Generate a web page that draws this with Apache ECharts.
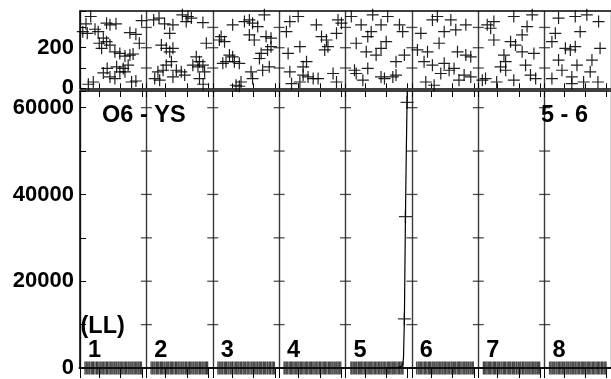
<!DOCTYPE html>
<html><head><meta charset="utf-8">
<script src="https://cdn.jsdelivr.net/npm/echarts@6/dist/echarts.min.js"></script>
<style>html,body{margin:0;padding:0;background:#fff}#c{width:611px;height:379px}</style>
</head><body><div id="c"></div>
<script>
// ---- categories / sections ----
const sectionLabels = ['1','2','3','4','5','6','7','8'];
const sectionDays = 31;
const xTickOffsets = [9, 19, 29];
const topTickValues = [0, 100, 200, 300];
const topLabelValues = [0, 200];
const bottomTickValues = [0, 10000, 20000, 30000, 40000, 50000, 60000];
const bottomLabelValues = [0, 20000, 40000, 60000];
const topMax = 381;
const bottomMax = 63840;

// ---- top panel scatter: [day within section, value] ----
const topSec1 = [[5.0,354],[2.8,318],[7.0,291],[8.5,279],[3.4,271],[1.3,279],[12.4,321],[16.8,318],[14.0,313],[10.9,247],[9.0,222],[12.4,230],[14.0,213],[10.1,197],[16.3,180],[18.6,172],[21.0,159],[23.3,164],[24.8,169],[27.7,222],[26.1,266],[23.3,274],[28.8,334],[20.2,98],[18.6,81],[10.9,76],[14.0,56],[16.3,48],[21.0,81],[6.2,31],[3.9,20],[24.1,31],[26.1,36],[22.5,114],[17.1,106],[12.7,98]];
const topSec2 = [[3.4,337],[5.9,346],[8.5,318],[12.4,313],[10.9,271],[16.8,362],[19.4,354],[21.0,346],[18.6,329],[28.0,222],[7.0,213],[9.3,197],[10.9,180],[12.4,197],[23.3,155],[24.8,131],[24.1,106],[11.7,131],[9.3,114],[7.8,89],[5.4,81],[14.0,89],[16.3,81],[17.9,65],[12.4,56],[6.2,40],[3.9,48],[24.8,48],[26.5,20],[26.4,324],[26.4,114],[21.7,114],[27.2,81]];
const topSec3 = [[3.9,255],[3.1,238],[5.5,230],[7.8,164],[9.3,155],[6.2,131],[4.7,123],[10.1,131],[12.4,123],[9.3,313],[14.8,329],[17.1,337],[18.6,321],[21.0,304],[24.1,362],[17.1,263],[19.4,238],[24.9,255],[27.2,247],[25.6,189],[22.6,172],[21.8,147],[26.4,106],[23.3,89],[17.9,81],[18.6,48],[13.2,31],[10.9,15],[12.4,10],[27.2,205]];
const topSec4 = [[5.0,329],[8.9,354],[3.4,279],[17.4,313],[27.5,337],[29.1,321],[19.8,255],[22.1,238],[22.8,205],[21.3,189],[26.8,271],[4.2,172],[9.7,205],[12.8,131],[11.2,106],[5.0,81],[11.2,65],[13.5,56],[15.9,48],[18.2,48],[9.7,31],[25.2,73],[26.8,31],[5.8,23]];
const topSec5 = [[2.7,354],[7.3,313],[12.0,279],[12.7,362],[19.7,354],[16.6,313],[25.2,313],[26.7,279],[10.4,255],[5.0,222],[9.7,180],[14.3,164],[16.6,197],[19.0,230],[27.5,164],[23.6,131],[4.2,89],[5.0,73],[8.1,40],[10.4,98],[18.2,48],[22.1,56],[23.6,65],[16.6,56]];
const topSec6 = [[9.6,337],[11.9,354],[18.2,337],[25.2,313],[4.2,271],[15.1,279],[20.5,288],[12.7,222],[2.6,189],[7.3,180],[21.3,180],[25.2,164],[27.5,155],[5.7,131],[9.6,114],[15.1,123],[17.4,89],[13.5,73],[6.5,31],[10.4,15],[22.0,40],[27.5,56],[24.4,65],[19.7,98]];
const topSec7 = [[4.2,313],[7.3,329],[5.8,296],[16.6,354],[25.2,362],[22.8,304],[20.5,263],[7.3,238],[15.1,230],[17.4,213],[20.5,180],[26.0,172],[12.0,164],[12.8,131],[10.4,106],[12.8,89],[3.4,48],[1.9,40],[16.6,40],[24.4,65],[26.8,48],[22.1,114],[8.6,31]];
const topSec8 = [[6.5,346],[14.3,354],[19.7,362],[25.2,329],[16.6,279],[5.0,271],[3.4,230],[9.7,197],[12.0,189],[14.3,205],[25.9,197],[22.1,139],[15.1,114],[6.5,139],[8.1,89],[21.3,81],[3.4,48],[12.7,56],[24.9,31],[18.2,31],[12.7,23]];
const topSections = [topSec1, topSec2, topSec3, topSec4, topSec5, topSec6, topSec7, topSec8];

// ---- bottom panel: dense near-zero markers (day within section) ----
const lowSec1 = [2.3,2.9,3.4,4.1,4.6,5.3,5.9,6.3,7.0,7.7,8.1,8.8,9.4,9.9,10.6,11.1,11.7,12.4,12.8,13.5,14.1,14.6,15.3,15.9,16.4,17.0,17.7,18.2,18.8,19.4,20.0,20.6,21.2,21.7,22.4,22.9,23.5,24.2,24.7,25.3,25.9,26.5,27.1,27.6,28.2,28.7];
const lowSec2 = [2.2,2.8,3.5,4.0,4.7,5.2,5.8,6.5,7.0,7.5,8.2,8.7,9.4,10.0,10.5,11.2,11.8,12.3,12.9,13.6,14.0,14.7,15.2,15.8,16.5,17.1,17.6,18.3,18.8,19.5,20.1,20.5,21.2,21.8,22.3,23.0,23.6,24.1,24.8,25.2,25.9,26.4,27.0,27.7,28.1,28.6];
const lowSec3 = [2.4,3.0,3.5,4.2,4.7,5.4,6.0,6.4,7.1,7.6,8.3,8.9,9.3,10.0,10.7,11.2,11.8,12.3,13.0,13.5,14.2,14.7,15.3,16.0,16.5,17.0,17.8,18.3,18.9,19.4,20.1,20.7,21.1,21.8,22.4,22.9,23.6,24.1,24.7,25.4,25.8,26.5,27.0,27.7,28.3,28.8];
const lowSec4 = [2.3,2.8,3.4,4.0,4.7,5.3,5.8,6.4,7.0,7.6,8.2,8.8,9.3,10.0,10.5,11.1,11.7,12.4,12.9,13.4,14.1,14.7,15.2,15.8,16.4,17.1,17.6,18.2,18.9,19.3,20.0,20.6,21.2,21.7,22.3,23.0,23.5,24.1,24.7,25.2,25.9,26.5,27.0,27.6,28.2,28.8];
const lowSec5 = [2.5,3.0,3.6,4.2,4.8,5.3,6.0,6.5,7.1,7.6,8.2,8.9,9.4,10.0,10.6,11.2,11.8,12.3,12.9,13.6,14.1,14.7,15.3,15.8,16.5,17.0,17.6,18.2,18.8,19.5,20.0,20.6,21.2,21.8,22.3,22.9,23.5,24.1,24.8,25.3,25.9,26.4,26.9];
const lowSec6 = [2.2,2.9,3.4,4.0,4.6,5.2,5.9,6.4,7.0,7.7,8.2,8.7,9.4,9.9,10.5,11.2,11.7,12.3,12.9,13.5,14.1,14.6,15.3,15.8,16.4,17.0,17.6,18.3,18.8,19.4,20.0,20.5,21.2,21.8,22.3,22.9,23.5,24.2,24.7,25.3,25.8,26.4,27.1,27.6,28.2,28.7];
const lowSec7 = [2.4,2.9,3.5,4.1,4.7,5.3,5.8,6.4,7.1,7.6,8.1,8.8,9.3,9.9,10.6,11.1,11.8,12.3,12.8,13.5,14.1,14.7,15.2,15.9,16.4,17.0,17.7,18.1,18.8,19.4,19.9,20.6,21.1,21.8,22.3,22.9,23.6,24.1,24.7,25.3,25.9,26.5,27.0,27.6,28.2,28.7];
const lowSec8 = [2.3,2.9,3.5,4.0,4.6,5.3,5.8,6.5,7.0,7.6,8.2,8.7,9.3,10.0,10.5,11.1,11.8,12.3,12.9,13.4,14.1,14.6,15.2,15.9,16.4,17.1,17.6,18.2,18.8,19.3,20.0,20.6,21.1,21.7,22.4,22.9,23.5,24.1,24.8,25.2,25.8,26.5,27.0,27.7,28.2,28.7];
const lowSections = [lowSec1, lowSec2, lowSec3, lowSec4, lowSec5, lowSec6, lowSec7, lowSec8];
const lowValue = 0;

// ---- bottom panel: surge in section 5 ----
const surgeSection = 4; // index of section "5"
const surgeDays   = [18.6, 22.0, 24.5, 26.2, 26.8, 27.1, 27.5, 28.0, 28.4, 28.76, 28.85];
const surgeValues = [0,    60,   150,  400,  900,  2500, 11300, 34900, 50000, 61200, 63840];
const surgeMarked = [0,    0,    0,    0,    0,    0,    1,     1,     0,     1,     0];

// ---- annotations ----
const titleLeft = 'O6 - YS';
const titleRight = '5 - 6';
const bottomTag = '(LL)';

// ================= build =================
const nSec = sectionLabels.length;
const xMax = nSec * sectionDays;
const tickDays = [];
for (let k = 0; k <= nSec; k++) tickDays.push(k * sectionDays);
for (let k = 0; k < nSec; k++) xTickOffsets.forEach(o => tickDays.push(k * sectionDays + o));
tickDays.sort((a, b) => a - b);
const dividers = [];
for (let k = 1; k < nSec; k++) dividers.push(k * sectionDays);

const topData = [];
topSections.forEach((sec, k) => sec.forEach(p => topData.push([k * sectionDays + p[0], p[1]])));
const lowData = [];
lowSections.forEach((sec, k) => sec.forEach(d => lowData.push([k * sectionDays + d, lowValue])));
const surgeData = surgeDays.map((d, i) => [surgeSection * sectionDays + d, surgeValues[i]]);
const surgeMarks = surgeData.filter((p, i) => surgeMarked[i]);

const topDivTicks = [];
dividers.forEach(x => topTickValues.filter(v => v > 0).forEach(v => topDivTicks.push([x, v])));
const botDivTicks = [];
dividers.forEach(x => bottomTickValues.filter(v => v > 0).forEach(v => botDivTicks.push([x, v])));

const PLUS = 'path://M4.5,0H5.5V4.5H10V5.5H5.5V10H4.5V5.5H0V4.5H4.5Z';
const FONT = '"Liberation Sans", Arial, Helvetica, sans-serif';
const labelStyle = { color: '#000', fontFamily: FONT, fontWeight: 'bold', fontSize: 22, margin: 6 };

const G0 = { left: 80, top: 11, width: 532, height: 77.3 };
const G1 = { left: 80, top: 91, width: 532, height: 279.3 };

const chart = echarts.init(document.getElementById('c'), null, { renderer: 'canvas' });
const axisLine = w => ({ show: true, onZero: false, lineStyle: { color: '#000', width: w } });
const off = { show: false };

chart.setOption({
  animation: false,
  backgroundColor: '#fff',
  grid: [G0, G1],
  xAxis: [
    { gridIndex: 0, type: 'value', min: 0, max: xMax, position: 'bottom', axisLine: axisLine(1.5),
      axisTick: { show: true, inside: true, length: 5, customValues: tickDays, lineStyle: { color: '#000' } },
      axisLabel: off, splitLine: off },
    { gridIndex: 0, type: 'value', min: 0, max: xMax, position: 'top', axisLine: axisLine(1.5),
      axisTick: off, axisLabel: off, splitLine: off },
    { gridIndex: 0, type: 'value', min: 0, max: xMax, interval: sectionDays, position: 'bottom',
      axisLine: off, axisTick: off, axisLabel: off,
      splitLine: { show: true, lineStyle: { color: '#3a3a3a', width: 1.4 } } },
    { gridIndex: 1, type: 'value', min: 0, max: xMax, position: 'bottom', axisLine: axisLine(2),
      axisTick: { show: true, inside: false, length: 10, customValues: tickDays, lineStyle: { color: '#000' } },
      axisLabel: off, splitLine: off },
    { gridIndex: 1, type: 'value', min: 0, max: xMax, position: 'top', axisLine: axisLine(1.5),
      axisTick: { show: true, inside: true, length: 6, customValues: tickDays, lineStyle: { color: '#000' } },
      axisLabel: off, splitLine: off },
    { gridIndex: 1, type: 'value', min: 0, max: xMax, interval: sectionDays, position: 'bottom',
      axisLine: off, axisTick: off, axisLabel: off,
      splitLine: { show: true, lineStyle: { color: '#3a3a3a', width: 1.4 } } }
  ],
  yAxis: [
    { gridIndex: 0, type: 'value', min: 0, max: topMax, interval: 100, axisLine: axisLine(1.5),
      axisTick: { show: true, inside: true, length: 6, lineStyle: { color: '#000' } },
      axisLabel: Object.assign({ formatter: v => topLabelValues.includes(v) ? String(v) : '' }, labelStyle),
      splitLine: off },
    { gridIndex: 1, type: 'value', min: 0, max: bottomMax, interval: 10000, axisLine: axisLine(1.5),
      axisTick: { show: true, inside: true, length: 6, lineStyle: { color: '#000' } },
      axisLabel: Object.assign({ formatter: v => bottomLabelValues.includes(v) ? String(v) : '' }, labelStyle),
      splitLine: off }
  ],
  series: [
    { type: 'scatter', xAxisIndex: 0, yAxisIndex: 0, data: topData, symbol: PLUS, symbolSize: 12,
      itemStyle: { color: '#000', opacity: 0.88 }, z: 3 },
    { type: 'scatter', xAxisIndex: 0, yAxisIndex: 0, data: topDivTicks, symbol: 'rect', symbolSize: [11, 1.3],
      itemStyle: { color: '#222' }, z: 2, silent: true },
    { type: 'scatter', xAxisIndex: 3, yAxisIndex: 1, data: botDivTicks, symbol: 'rect', symbolSize: [11, 1.3],
      itemStyle: { color: '#222' }, z: 2, silent: true },
    { type: 'scatter', xAxisIndex: 3, yAxisIndex: 1, data: lowData, symbol: PLUS, symbolSize: 13,
      itemStyle: { color: '#111', opacity: 0.75 }, z: 3, clip: false },
    { type: 'line', xAxisIndex: 3, yAxisIndex: 1, data: surgeData, showSymbol: false, symbol: 'none',
      lineStyle: { color: '#000', width: 1.2 }, z: 4 },
    { type: 'scatter', xAxisIndex: 3, yAxisIndex: 1, data: surgeMarks, symbol: PLUS, symbolSize: 13,
      itemStyle: { color: '#000' }, z: 5 }
  ]
});

// text annotations
const textFont = 'bold 23.5px ' + FONT;
const graphics = [
  { type: 'text', left: 102, top: 104, style: { text: titleLeft, font: textFont, fill: '#000' }, z: 10 },
  { type: 'text', left: 541, top: 104, style: { text: titleRight, font: textFont, fill: '#000' }, z: 10 },
  { type: 'text', left: 80.5, top: 315, style: { text: bottomTag, font: textFont, fill: '#000' }, z: 10 }
];
sectionLabels.forEach((lab, k) => {
  const p = chart.convertToPixel({ gridIndex: 1 }, [k * sectionDays + 3.7, 0]);
  graphics.push({ type: 'text', left: p[0], top: 339, style: { text: lab, font: textFont, fill: '#000' }, z: 10 });
});
chart.setOption({ graphic: graphics });
</script>
</body></html>
